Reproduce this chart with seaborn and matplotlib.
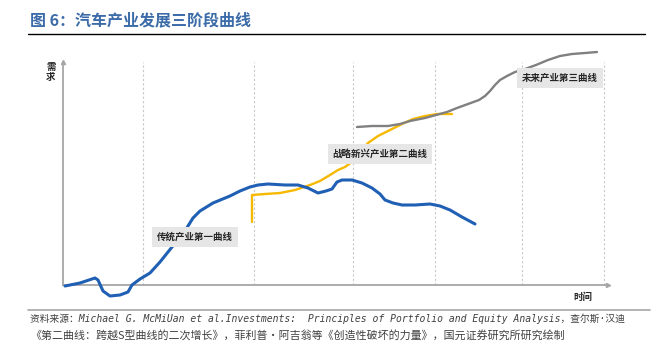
import matplotlib
matplotlib.use("Agg")
import matplotlib.pyplot as plt
from matplotlib.lines import Line2D
import seaborn as sns
import pandas as pd

# ---- data (time, demand) ----
blue_t = [2, 17, 32, 35, 40, 47, 57, 65, 69, 77, 87, 97, 109, 120, 125, 130, 137, 150, 167, 177,
          187, 195, 205, 222, 235, 245, 255, 263, 269, 274, 279, 289, 299, 309, 317, 322, 330, 339,
          352, 367, 377, 387, 399, 412]
blue_d = [-1, 2, 7, 5, -6, -11, -10, -7, 0, 6, 12, 23, 38, 51, 59, 67, 74, 82, 89, 94,
          98, 100, 101, 100, 100, 97, 92, 94, 96, 103, 105, 105, 102, 97, 91, 85, 82, 80,
          80, 81, 79, 75, 68, 61]

yellow_t = [189, 189, 202, 217, 232, 247, 257, 267, 275, 282, 289, 297, 305, 315, 327, 339, 350,
            362, 374, 389]
yellow_d = [63, 90, 91, 92, 95, 100, 104, 110, 115, 118, 123, 133, 142, 149, 155, 161, 166,
            169, 171, 171]

gray_t = [294, 309, 325, 337, 347, 362, 373, 384, 394, 405, 416, 422, 427, 432, 437, 444, 452,
          462, 473, 485, 497, 509, 522, 534]
gray_d = [158, 159, 159, 161, 164, 167, 170, 173, 177, 181, 185, 189, 194, 200, 205, 209, 213,
          216, 220, 225, 229, 231, 232, 233]

stage_marks = [80, 191, 290, 372, 459, 541]

curve_names = ["传统产业第一曲线", "战略新兴产业第二曲线", "未来产业第三曲线"]
label_t = [132, 317, 497]
label_d = [48, 131, 207]

title = "图 6：汽车产业发展三阶段曲线"
y_label = "需\n求"
x_label = "时间"
source1 = "资料来源：Michael G. McMiUan et al.Investments:  Principles of Portfolio and Equity Analysis，查尔斯·汉迪"
source2 = "《第二曲线：跨越S型曲线的二次增长》，菲利普·阿吉翁等《创造性破坏的力量》，国元证券研究所研究绘制"

sns.set_theme(style="white")
plt.rcParams['font.family'] = ['Noto Sans CJK SC', 'DejaVu Sans']

W, H = 652, 346
fig = plt.figure(figsize=(W / 100, H / 100), dpi=100)
fig.patch.set_facecolor("white")
ax = fig.add_axes([63 / W, (H - 300) / H, (615 - 63) / W, (300 - 45) / H])
ax.set_xlim(0, 552)
ax.set_ylim(-15, 240)
ax.patch.set_alpha(0)

# dashed stage lines
ax.vlines(stage_marks, 0, 223, colors="#C8C8C8", linestyles=(0, (2, 2)), lw=0.8, zorder=1)

df_b = pd.DataFrame({"t": blue_t, "d": blue_d})
df_y = pd.DataFrame({"t": yellow_t, "d": yellow_d})
df_g = pd.DataFrame({"t": gray_t, "d": gray_d})
sns.lineplot(data=df_b, x="t", y="d", ax=ax, color="#1F5FB4", lw=2.2, sort=False,
             estimator=None, zorder=3)
sns.lineplot(data=df_y, x="t", y="d", ax=ax, color="#F7B800", lw=1.7, sort=False,
             estimator=None, zorder=2)
sns.lineplot(data=df_g, x="t", y="d", ax=ax, color="#808080", lw=1.7, sort=False,
             estimator=None, zorder=2)

for name, t, d in zip(curve_names, label_t, label_d):
    ax.text(t, d, name, ha="center", va="center", fontsize=6.8, color="#262626",
            fontweight="bold",
            bbox=dict(boxstyle="square,pad=0.5", facecolor="#E7E6E6", edgecolor="none"),
            zorder=5)

# axes styling
for s in ["top", "right"]:
    ax.spines[s].set_visible(False)
ax.spines["bottom"].set_position(("data", 0))
ax.spines["left"].set_bounds(0, 223)
ax.spines["bottom"].set_bounds(0, 545)
for s in ["left", "bottom"]:
    ax.spines[s].set_color("#A6A6A6")
    ax.spines[s].set_linewidth(1.3)
ax.set_xticks([])
ax.set_yticks([])
ax.set_xlabel("")
ax.set_ylabel("")
ax.plot([545], [0], marker=">", ms=3, color="#A6A6A6", clip_on=False)
ax.plot([0], [223], marker="^", ms=3, color="#A6A6A6", clip_on=False)

# axis labels
fig.text(51 / W, 1 - 72 / H, y_label, ha="center", va="center", fontsize=6.8,
         color="#262626", fontweight="bold", linespacing=1.1)
fig.text(583 / W, 1 - 297 / H, x_label, ha="center", va="center", fontsize=6.8,
         color="#262626", fontweight="bold")

# title and rules
fig.text(30 / W, 1 - 20 / H, title, ha="left", va="center", fontsize=11.5,
         color="#3B6BA8", fontweight="bold")
fig.add_artist(Line2D([28 / W, 645 / W], [1 - 34 / H] * 2, color="black", lw=1.0))
fig.add_artist(Line2D([28 / W, 650 / W], [1 - 310 / H] * 2, color="#A6A6A6", lw=1.2))

fig.text(30 / W, 1 - 319 / H, source1, ha="left", va="center", fontsize=7,
         color="#404040", family=["DejaVu Sans Mono", "Noto Sans CJK SC"], style="italic")
fig.text(30 / W, 1 - 335 / H, source2, ha="left", va="center", fontsize=7.9,
         color="#404040")

fig.savefig("out.png", dpi=100, facecolor="white")
